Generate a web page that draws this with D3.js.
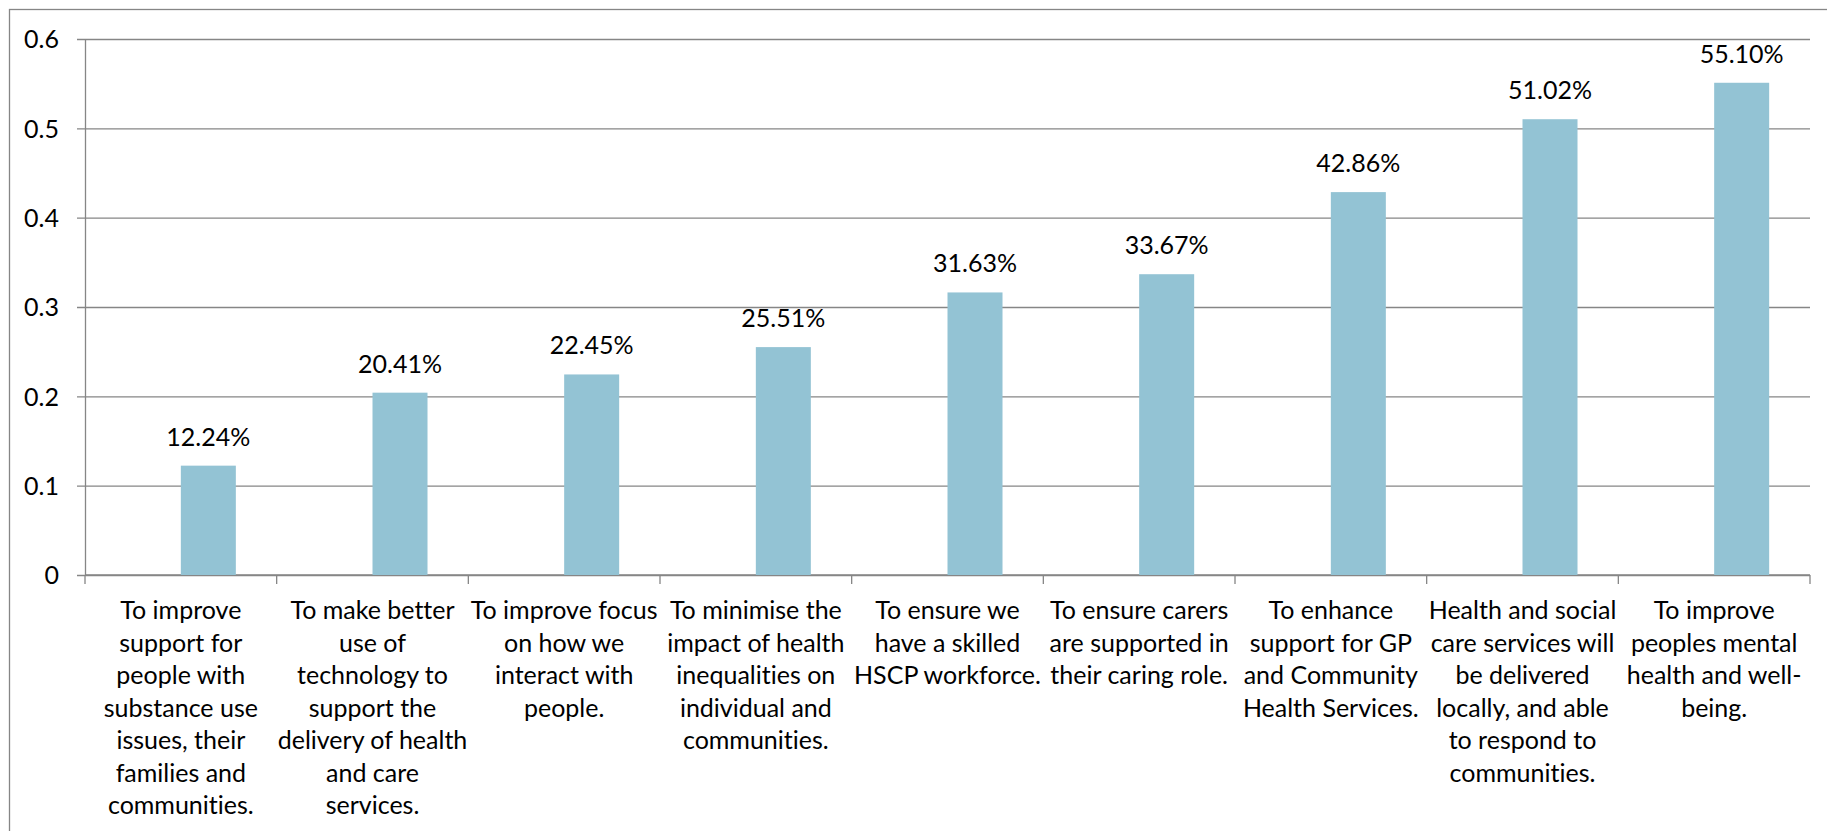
<!DOCTYPE html>
<html>
<head>
<meta charset="utf-8">
<script src="https://cdn.jsdelivr.net/npm/d3@7"></script>
<style>
  body { margin: 0; background: #fff; }
  svg text, svg tspan {
    font-family: Lato, "Open Sans", sans-serif; fill: #000;
    font-variant-ligatures: none;
    font-feature-settings: "liga" 0, "clig" 0, "dlig" 0, "calt" 0;
  }
</style>
</head>
<body>
<div id="chart"></div>
<script>
// categories, already split into lines as in the picture
const categories = [
  ["To improve", "support for", "people with", "substance use", "issues, their", "families and", "communities."],
  ["To make better", "use of", "technology to", "support the", "delivery of health", "and care", "services."],
  ["To improve focus", "on how we", "interact with", "people."],
  ["To minimise the", "impact of health", "inequalities on", "individual and", "communities."],
  ["To ensure we", "have a skilled", "HSCP workforce."],
  ["To ensure carers", "are supported in", "their caring role."],
  ["To enhance", "support for GP", "and Community", "Health Services."],
  ["Health and social", "care services will", "be delivered", "locally, and able", "to respond to", "communities."],
  ["To improve", "peoples mental", "health and well-", "being."]
]
const values = [0.1224, 0.2041, 0.2245, 0.2551, 0.3163, 0.3367, 0.4286, 0.5102, 0.5510]
const yTicks = [0, 0.1, 0.2, 0.3, 0.4, 0.5, 0.6]

const width = 1827, height = 831
const margin = {left: 85, right: 17, top: 39, bottom: 256}
const axisColor = "#868686"

const svg = d3.select("#chart").append("svg")
    .attr("width", width)
    .attr("height", height)

// outer chart border
svg.append("rect")
    .attr("x", 9.5).attr("y", 9.5)
    .attr("width", width).attr("height", height)
    .attr("fill", "none")
    .attr("stroke", axisColor)
    .attr("stroke-width", 1.3)

const x = d3.scaleBand()
    .domain(d3.range(categories.length))
    .range([margin.left, width - margin.right])
    .padding(0)

const y = d3.scaleLinear()
    .domain([0, 0.6])
    .range([height - margin.bottom, margin.top])

// gridlines + y axis
const yAxis = d3.axisLeft(y)
    .tickValues(yTicks)
    .tickFormat(d => d === 0 ? "0" : d3.format(".1f")(d))
    .tickSize(-(width - margin.right - margin.left + 8))
    .tickPadding(18)

const gy = svg.append("g")
    .attr("transform", "translate(" + (margin.left - 8) + ",0)")
    .call(yAxis)
gy.select(".domain").remove()
gy.selectAll(".tick line").attr("stroke", axisColor).attr("stroke-width", 1.3)
gy.selectAll(".tick text")
    .style("font-size", "25px")
    .attr("dy", "0.35em")

// vertical axis line
svg.append("line")
    .attr("x1", margin.left + 0.5).attr("x2", margin.left + 0.5)
    .attr("y1", y(0.6)).attr("y2", y(0))
    .attr("stroke", axisColor).attr("stroke-width", 1.3)

// x axis with ticks between categories
const xTicks = d3.range(categories.length + 1).map(i => margin.left + i * x.bandwidth())
svg.append("line")
    .attr("x1", margin.left).attr("x2", width - margin.right)
    .attr("y1", y(0)).attr("y2", y(0))
    .attr("stroke", axisColor).attr("stroke-width", 1.3)
for (let i = 0; i < xTicks.length; i++) {
  svg.append("line")
      .attr("x1", xTicks[i]).attr("x2", xTicks[i])
      .attr("y1", y(0)).attr("y2", y(0) + 9)
      .attr("stroke", axisColor).attr("stroke-width", 1.3)
}

// bars (offset right of the category centre, like the original)
const barW = x.bandwidth() * 0.287
for (let i = 0; i < values.length; i++) {
  let cx = x(i) + x.bandwidth() / 2
  svg.append("rect")
      .attr("x", cx)
      .attr("y", y(values[i]))
      .attr("width", barW)
      .attr("height", y(0) - y(values[i]))
      .attr("fill", "#93C3D4")
  svg.append("text")
      .attr("x", cx + barW / 2)
      .attr("y", y(values[i]) - 20)
      .attr("text-anchor", "middle")
      .style("font-size", "25px")
      .text(d3.format(".2%")(values[i]))
}

// category labels
for (let i = 0; i < categories.length; i++) {
  let t = svg.append("text")
      .attr("text-anchor", "middle")
      .style("font-size", "25px")
  categories[i].forEach((line, j) => {
    t.append("tspan")
        .attr("x", x(i) + x.bandwidth() / 2)
        .attr("y", y(0) + 44 + j * 32.5)
        .text(line)
  })
}
</script>
</body>
</html>
